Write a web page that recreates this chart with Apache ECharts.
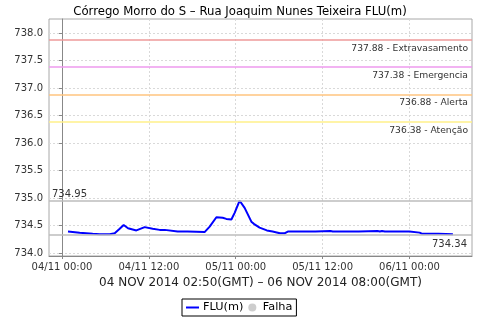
<!DOCTYPE html>
<html><head><meta charset="utf-8">
<script src="https://cdn.jsdelivr.net/npm/echarts@6/dist/echarts.min.js"></script>
<style>html,body{margin:0;padding:0;background:#fff}#c{width:480px;height:320px}</style>
</head><body><div id="c"></div>
<script>
// hours since 04/11 00:00 (local axis time)
const hours = [0.83,2.44,4.24,5.2,6.6,7.28,7.97,8.52,9.12,10.28,11.42,12.53,13.5,14.19,15.98,17.36,19.7,20.4,21.33,22.2,22.7,23.4,23.85,24.54,25.23,26.16,26.5,27.3,28.3,29.1,30.1,30.8,31.2,33.0,35.0,37.1,37.4,39.0,41.0,43.6,43.9,44.2,44.6,46.0,48.0,49.4,49.7,52.0,54.0];
const flu   = [734.39,734.37,734.35,734.34,734.34,734.36,734.44,734.51,734.45,734.41,734.47,734.44,734.42,734.42,734.39,734.39,734.38,734.48,734.65,734.64,734.62,734.61,734.73,734.95,734.82,734.57,734.53,734.46,734.41,734.39,734.36,734.36,734.39,734.39,734.39,734.40,734.39,734.39,734.39,734.40,734.39,734.40,734.39,734.39,734.39,734.37,734.35,734.35,734.34];
const xTicks = [0,12,24,36,48];
const xTickLabels = ['04/11 00:00','04/11 12:00','05/11 00:00','05/11 12:00','06/11 00:00'];
const yTicks = [734.0,734.5,735.0,735.5,736.0,736.5,737.0,737.5,738.0];
const thresholdValues = [737.88,737.38,736.88,736.38];
const thresholdNames = ['Extravasamento','Emergencia','Alerta','Atenção'];
const thresholdColors = ['#ee9a9a','#ee9aee','#ffc47f','#fff08a'];
const maxValue = 734.95, minValue = 734.34;
const titleText = 'Córrego Morro do S – Rua Joaquim Nunes Teixeira FLU(m)';
const periodText = '04 NOV 2014 02:50(GMT) – 06 NOV 2014 08:00(GMT)';

const FONT = 'DejaVu Sans';
const markData = thresholdValues.map((v,i)=>({
  yAxis: v,
  lineStyle:{color:thresholdColors[i],width:1.5,type:'solid'},
  label:{show:true,position:'insideEndBottom',distance:[4,4],formatter: v.toFixed(2)+' - '+thresholdNames[i],color:'#333',fontFamily:FONT,fontSize:9.2}
}));
markData.push({yAxis:maxValue,lineStyle:{color:'#bdbdbd',width:1.5,type:'solid'},
  label:{show:true,position:'insideStartTop',distance:[3,1],formatter:maxValue.toFixed(2),color:'#333',fontFamily:FONT,fontSize:10}});
markData.push({yAxis:minValue,lineStyle:{color:'#bdbdbd',width:1.5,type:'solid'},
  label:{show:true,position:'insideEndBottom',distance:[5,5],formatter:minValue.toFixed(2),color:'#333',fontFamily:FONT,fontSize:10}});

const chart = echarts.init(document.getElementById('c'),null,{renderer:'canvas'});
chart.setOption({
  animation:false,
  backgroundColor:'#fff',
  title:{text:titleText,left:'center',top:1,textStyle:{fontFamily:FONT,fontSize:11.7,fontWeight:'normal',color:'#000'}},
  grid:{left:49,right:8,top:19,bottom:64,show:true,borderColor:'#a8a8a8',borderWidth:1},
  legend:{left:182,top:299,padding:[3,4,3,3],itemGap:5,itemWidth:13,itemHeight:8,
    borderColor:'#000',borderWidth:1,borderRadius:0,
    textStyle:{fontFamily:FONT,fontSize:11.3,color:'#000',padding:[0,0,0,-1]},
    data:[{name:'FLU(m)',itemStyle:{opacity:0}},{name:'Falha'}]},
  xAxis:{type:'value',min:-1.795,max:56.64,
    name:periodText,nameLocation:'middle',nameGap:20,
    nameTextStyle:{fontFamily:FONT,fontSize:12,color:'#222'},
    axisLine:{show:true,onZero:false,lineStyle:{color:'#888'}},
    axisTick:{show:true,length:3,customValues:xTicks,lineStyle:{color:'#888'}},
    axisLabel:{customValues:xTicks,margin:6,fontFamily:FONT,fontSize:10,color:'#333',
      formatter:(v)=>xTickLabels[xTicks.indexOf(v)]||''},
    splitLine:{show:true,lineStyle:{color:'#d9d9d9',type:[2,2]}}},
  yAxis:{type:'value',min:733.945,max:738.255,
    axisLine:{show:true,lineStyle:{color:'#888'}},
    axisTick:{show:true,length:3,customValues:yTicks,lineStyle:{color:'#888'}},
    axisLabel:{customValues:yTicks,margin:6,fontFamily:FONT,fontSize:10,color:'#333',formatter:(v)=>v.toFixed(1)},
    splitLine:{show:true,lineStyle:{color:'#d9d9d9',type:[2,2]}}},
  series:[
    {name:'FLU(m)',type:'line',symbol:'none',data:hours.map((h,i)=>[h,flu[i]]),
     lineStyle:{color:'#0000ff',width:2},itemStyle:{color:'#0000ff'},
     markLine:{silent:true,symbol:'none',data:markData}},
    {name:'Falha',type:'scatter',data:[],itemStyle:{color:'#c0c0c0'}}
  ]
});
</script></body></html>
